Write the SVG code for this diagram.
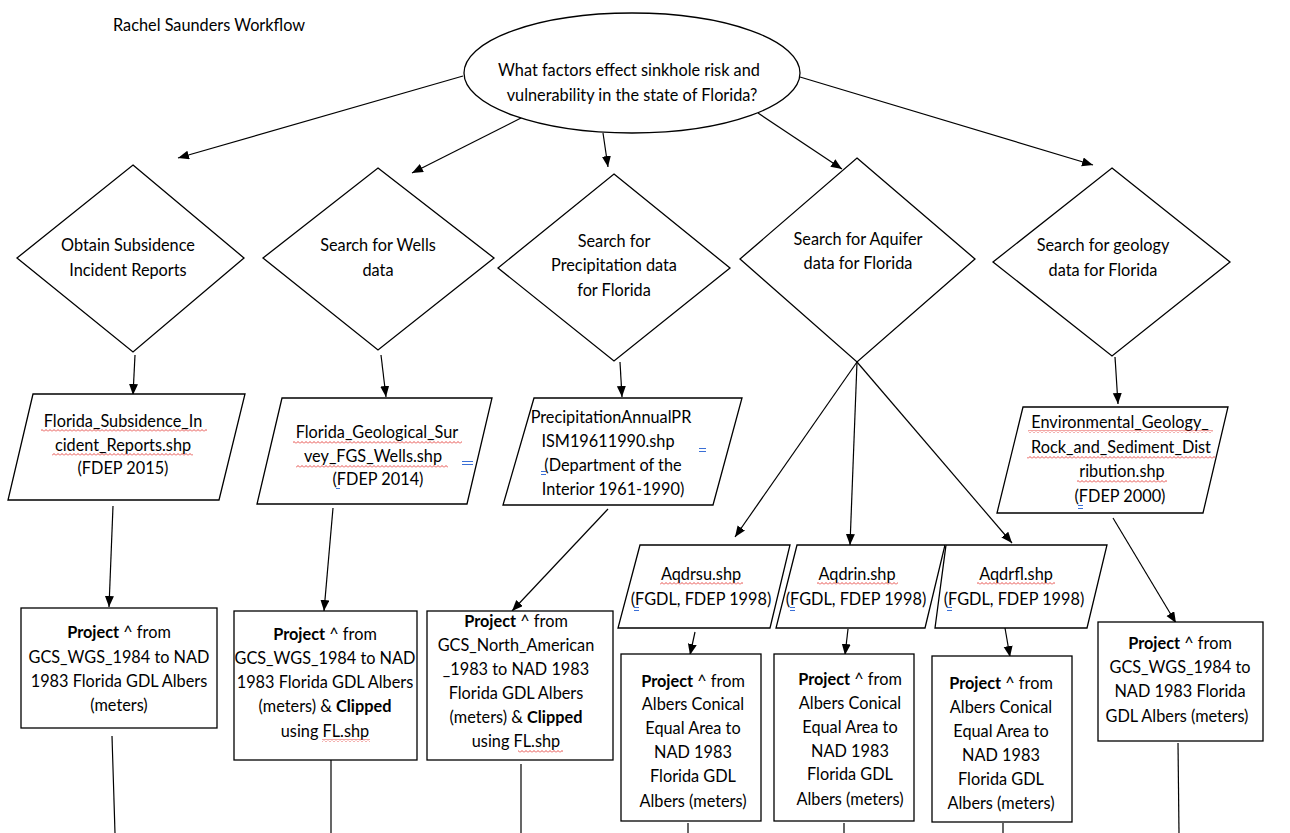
<svg xmlns="http://www.w3.org/2000/svg" width="1290" height="833" viewBox="0 0 1290 833">
  <defs>
    <style>
      .n { fill: #fff; stroke: #000; stroke-width: 1.3; }
      .t { font-family: Lato, "Open Sans", "Liberation Sans", sans-serif; font-size: 16.3px; fill: #000; text-anchor: middle; }
      .b { font-weight: bold; }
      .e { fill: none; stroke: #000; stroke-width: 1.2; marker-end: url(#ah); }
      .l { fill: none; stroke: #000; stroke-width: 1.2; }
      .sq { fill: url(#wave); }
      .bm { stroke: #3a6fd6; stroke-width: 1; }
    </style>
    <marker id="ah" markerUnits="userSpaceOnUse" markerWidth="12" markerHeight="10" refX="11" refY="4.5" orient="auto">
      <path d="M0,0 L11,4.5 L0,9 z" fill="#000"/>
    </marker>
    <!-- red wavy spelling underline -->
    <pattern id="wave" patternUnits="userSpaceOnUse" width="4" height="3">
      <path d="M0,2.5 L2,0.5 L4,2.5" fill="none" stroke="#e0201b" stroke-width="0.8"/>
    </pattern>
  </defs>

  <rect width="1290" height="833" fill="#fff"/>

  <text class="t" x="113" y="31" style="text-anchor:start">Rachel Saunders Workflow</text>

  <!-- connectors -->
  <g id="connectors">
    <path class="e" d="M463,76 L178,158"/>
    <path class="e" d="M523,117 L412,173"/>
    <path class="e" d="M603,133 L608,167"/>
    <path class="e" d="M758,113 L842,169"/>
    <path class="e" d="M800,77 L1093,165"/>
    <path class="e" d="M135,355 L133,395"/>
    <path class="e" d="M381,355 L386,397"/>
    <path class="e" d="M620,362 L622,397"/>
    <path class="e" d="M857,362 L735,537"/>
    <path class="e" d="M857,362 L850,545"/>
    <path class="e" d="M857,362 L1012,543"/>
    <path class="e" d="M1115,357 L1118,404"/>
    <path class="e" d="M113,506 L109,607"/>
    <path class="e" d="M333,508 L324,611"/>
    <path class="e" d="M608,509 L512,611"/>
    <path class="e" d="M695,632 L690,655"/>
    <path class="e" d="M848,629 L845,655"/>
    <path class="e" d="M1005,628 L1010,657"/>
    <path class="e" d="M1113,518 L1176,623"/>
    <path class="l" d="M112,736 L115,833"/>
    <path class="l" d="M331,756 L331,833"/>
    <path class="l" d="M521,764 L521,833"/>
    <path class="l" d="M688,823 L688,833"/>
    <path class="l" d="M844,823 L844,833"/>
    <path class="l" d="M1003,823 L1003,833"/>
    <path class="l" d="M1178,743 L1179,833"/>
  </g>

  <!-- question -->
  <g id="question">
    <ellipse class="n" cx="632" cy="73" rx="168" ry="60"/>
    <text class="t" x="629" y="76">What factors effect sinkhole risk and</text>
    <text class="t" x="632" y="101">vulnerability in the state of Florida?</text>
  </g>

  <!-- decisions -->
  <g id="d-subsidence">
    <polygon class="n" points="133,165 244,258 133,352 17,258"/>
    <text class="t" x="128" y="251">Obtain Subsidence</text>
    <text class="t" x="128" y="276">Incident Reports</text>
  </g>
  <g id="d-wells">
    <polygon class="n" points="378,168 494,258 378,350 263,258"/>
    <text class="t" x="378" y="251">Search for Wells</text>
    <text class="t" x="378" y="276">data</text>
  </g>
  <g id="d-precip">
    <polygon class="n" points="614,174 730,268 614,361 498,268"/>
    <text class="t" x="614" y="247">Search for</text>
    <text class="t" x="614" y="271">Precipitation data</text>
    <text class="t" x="614" y="296">for Florida</text>
  </g>
  <g id="d-aquifer">
    <polygon class="n" points="857,158 975,259 857,362 740,259"/>
    <text class="t" x="858" y="245">Search for Aquifer</text>
    <text class="t" x="858" y="269">data for Florida</text>
  </g>
  <g id="d-geology">
    <polygon class="n" points="1112,168 1230,262 1112,356 993,262"/>
    <text class="t" x="1103" y="251">Search for geology</text>
    <text class="t" x="1103" y="276">data for Florida</text>
  </g>

  <!-- data sets -->
  <g id="p-subsidence">
    <polygon class="n" points="33,394 245,394 219,500 8,500"/>
    <text class="t" x="123" y="427">Florida_Subsidence_In</text>
    <text class="t" x="123" y="451">cident_Reports.shp</text>
    <text class="t" x="123" y="474">(FDEP 2015)</text>
    <rect class="sq" x="41" y="429" width="166" height="3"/>
    <rect class="sq" x="52" y="453" width="141" height="3"/>
  </g>
  <g id="p-wells">
    <polygon class="n" points="282,398 492,398 467,504 257,504"/>
    <text class="t" x="377" y="438">Florida_Geological_Sur</text>
    <text class="t" x="373" y="462">vey_FGS_Wells.shp</text>
    <text class="t" x="378" y="485">(FDEP 2014)</text>
    <rect class="sq" x="293" y="441" width="169" height="3"/>
    <rect class="sq" x="296" y="465" width="152" height="3"/>
    <path class="bm" d="M462,461.5 H473 M462,464.5 H473"/>
    <path class="bm" d="M336,488.5 H340"/>
  </g>
  <g id="p-precip">
    <polygon class="n" points="534,398 742,398 713,505 503,505"/>
    <text class="t" x="611" y="423">PrecipitationAnnualPR</text>
    <text class="t" x="608" y="447">ISM19611990.shp</text>
    <text class="t" x="613" y="471">(Department of the</text>
    <text class="t" x="613" y="495">Interior 1961-1990)</text>
    <path class="bm" d="M699,448.5 H706 M699,451.5 H706"/>
    <path class="bm" d="M541,471.5 H546 M541,474.5 H546"/>
  </g>
  <g id="p-geology">
    <polygon class="n" points="1023,407 1228,407 1203,513 997,513"/>
    <text class="t" x="1120" y="428">Environmental_Geology_</text>
    <text class="t" x="1121" y="453">Rock_and_Sediment_Dist</text>
    <text class="t" x="1122" y="477">ribution.shp</text>
    <text class="t" x="1120" y="502">(FDEP 2000)</text>
    <rect class="sq" x="1028" y="430" width="185" height="3"/>
    <rect class="sq" x="1027" y="456" width="188" height="3"/>
    <rect class="sq" x="1077" y="480" width="90" height="3"/>
    <path class="bm" d="M1078,505.5 H1083 M1078,508.5 H1083"/>
  </g>
  <g id="p-aqdrsu">
    <polygon class="n" points="640,545 790,545 770,628 618,628"/>
    <text class="t" x="701" y="580">Aqdrsu.shp</text>
    <text class="t" x="701" y="605">(FGDL, FDEP 1998)</text>
    <rect class="sq" x="660" y="582" width="83" height="3"/>
    <path class="bm" d="M634,607.5 H639 M634,610.5 H639"/>
  </g>
  <g id="p-aqdrin">
    <polygon class="n" points="797,545 945,545 925,628 776,628"/>
    <text class="t" x="857" y="580">Aqdrin.shp</text>
    <text class="t" x="856" y="605">(FGDL, FDEP 1998)</text>
    <rect class="sq" x="817" y="582" width="81" height="3"/>
    <path class="bm" d="M790,607.5 H795 M790,610.5 H795"/>
  </g>
  <g id="p-aqdrfl">
    <polygon class="n" points="946,545 1107,545 1087,628 935,628"/>
    <text class="t" x="1016" y="580">Aqdrfl.shp</text>
    <text class="t" x="1014" y="605">(FGDL, FDEP 1998)</text>
    <rect class="sq" x="977" y="582" width="78" height="3"/>
    <path class="bm" d="M947,607.5 H952 M947,610.5 H952"/>
  </g>

  <!-- processing steps -->
  <g id="r-subsidence">
    <rect class="n" x="21" y="608" width="196" height="120"/>
    <text class="t" x="119" y="638"><tspan class="b">Project</tspan> ^ from</text>
    <text class="t" x="119" y="663">GCS_WGS_1984 to NAD</text>
    <text class="t" x="119" y="687">1983 Florida GDL Albers</text>
    <text class="t" x="119" y="711">(meters)</text>
  </g>
  <g id="r-wells">
    <rect class="n" x="234" y="611" width="183" height="149"/>
    <text class="t" x="325" y="640"><tspan class="b">Project</tspan> ^ from</text>
    <text class="t" x="325" y="664">GCS_WGS_1984 to NAD</text>
    <text class="t" x="325" y="688">1983 Florida GDL Albers</text>
    <text class="t" x="325" y="712">(meters) &amp; <tspan class="b">Clipped</tspan></text>
    <text class="t" x="325" y="737">using FL.shp</text>
    <rect class="sq" x="322" y="739" width="48" height="3"/>
  </g>
  <g id="r-precip">
    <rect class="n" x="427" y="611" width="186" height="149"/>
    <text class="t" x="516" y="627"><tspan class="b">Project</tspan> ^ from</text>
    <text class="t" x="516" y="651">GCS_North_American</text>
    <text class="t" x="516" y="675">_1983 to NAD 1983</text>
    <text class="t" x="516" y="699">Florida GDL Albers</text>
    <text class="t" x="516" y="723">(meters) &amp; <tspan class="b">Clipped</tspan></text>
    <text class="t" x="516" y="747">using FL.shp</text>
    <rect class="sq" x="518" y="750" width="45" height="3"/>
  </g>
  <g id="r-aqdrsu">
    <rect class="n" x="621" y="654" width="140" height="167"/>
    <text class="t" x="693" y="687"><tspan class="b">Project</tspan> ^ from</text>
    <text class="t" x="693" y="710">Albers Conical</text>
    <text class="t" x="693" y="734">Equal Area to</text>
    <text class="t" x="693" y="758">NAD 1983</text>
    <text class="t" x="693" y="782">Florida GDL</text>
    <text class="t" x="693" y="807">Albers (meters)</text>
  </g>
  <g id="r-aqdrin">
    <rect class="n" x="774" y="654" width="140" height="167"/>
    <text class="t" x="850" y="685"><tspan class="b">Project</tspan> ^ from</text>
    <text class="t" x="850" y="709">Albers Conical</text>
    <text class="t" x="850" y="733">Equal Area to</text>
    <text class="t" x="850" y="757">NAD 1983</text>
    <text class="t" x="850" y="780">Florida GDL</text>
    <text class="t" x="850" y="805">Albers (meters)</text>
  </g>
  <g id="r-aqdrfl">
    <rect class="n" x="932" y="656" width="140" height="166"/>
    <text class="t" x="1001" y="689"><tspan class="b">Project</tspan> ^ from</text>
    <text class="t" x="1001" y="713">Albers Conical</text>
    <text class="t" x="1001" y="737">Equal Area to</text>
    <text class="t" x="1001" y="761">NAD 1983</text>
    <text class="t" x="1001" y="785">Florida GDL</text>
    <text class="t" x="1001" y="809">Albers (meters)</text>
  </g>
  <g id="r-geology">
    <rect class="n" x="1098" y="622" width="165" height="119"/>
    <text class="t" x="1180" y="649"><tspan class="b">Project</tspan> ^ from</text>
    <text class="t" x="1180" y="673">GCS_WGS_1984 to</text>
    <text class="t" x="1180" y="697">NAD 1983 Florida</text>
    <text class="t" x="1177" y="722">GDL Albers (meters)</text>
  </g>
</svg>
